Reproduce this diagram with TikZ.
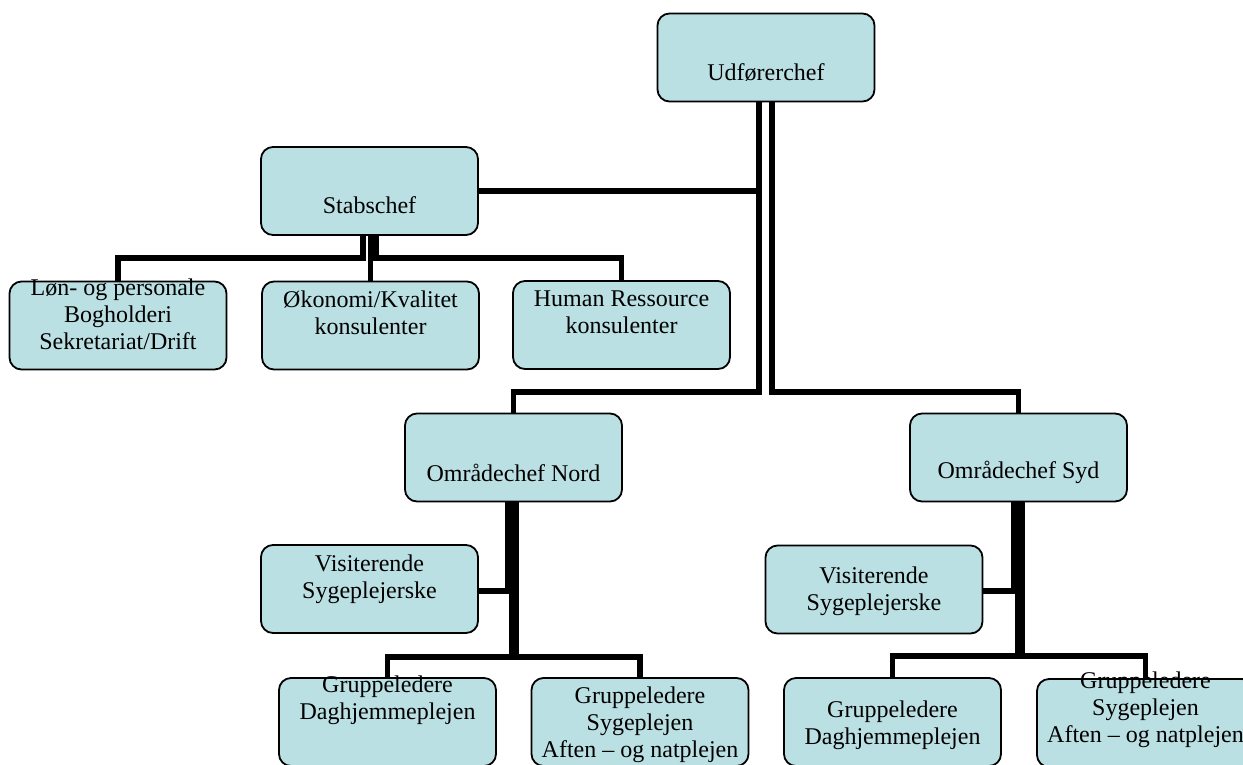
\documentclass[tikz,border=0pt]{standalone}
\usepackage{fontspec}
\setmainfont{Liberation Serif}
\usetikzlibrary{positioning, calc}
\definecolor{boxfill}{RGB}{187,224,227}

\begin{document}
\begin{tikzpicture}[x=1pt, y=-1pt,
		box/.style={draw=black, line width=1.8pt, fill=boxfill, rounded corners=12pt, minimum width=217pt, minimum height=88pt, inner sep=0pt},
		txt/.style={align=center, inner sep=0pt, font=\fontsize{24}{27}\selectfont},
		link/.style={line width=5.5pt}]
		\useasboundingbox (0,0) rectangle (1243,764);

		% boxes
		\node[box] (udf) at (766,57.5) {};
		\node[box] (stab) at (369.5,191) {};
		\node[box] (lon) at (118,325.5) {};
		\node[box] (oko) at (370.5,325.5) {};
		\node[box] (hum) at (621.5,325) {};
		\node[box] (nord) at (513.5,457.5) {};
		\node[box] (syd) at (1018.5,457.5) {};
		\node[box] (nordvis) at (369.5,589) {};
		\node[box] (sydvis) at (874,589.5) {};
		\node[box] (norddag) at (387.5,722) {};
		\node[box] (nordaft) at (640,722) {};
		\node[box] (syddag) at (892.5,722) {};
		\node[box] (sydaft) at (1145.5,723) {};

		% texts
		\node[txt] (udf-txt) at ($(udf)+(0,15)$) {Udførerchef};
		\node[txt] (stab-txt) at ($(stab)+(0,14)$) {Stabschef};
		\node[txt] (lon-txt) at ($(lon)+(0,-11)$) {Løn- og personale\\Bogholderi\\Sekretariat/Drift};
		\node[txt] (oko-txt) at ($(oko)+(0,-13)$) {Økonomi/Kvalitet\\konsulenter};
		\node[txt] (hum-txt) at ($(hum)+(0,-13)$) {Human Ressource\\konsulenter};
		\node[txt] (nord-txt) at ($(nord)+(0,15)$) {Områdechef Nord};
		\node[txt] (syd-txt) at ($(syd)+(0,15)$) {Områdechef Syd};
		\node[txt] (nordvis-txt) at ($(nordvis)+(0,-10)$) {Visiterende\\Sygeplejerske};
		\node[txt] (sydvis-txt) at ($(sydvis)+(0,2)$) {Visiterende\\Sygeplejerske};
		\node[txt] (norddag-txt) at ($(norddag)+(0,-22)$) {Gruppeledere\\Daghjemmeplejen};
		\node[txt] (nordaft-txt) at ($(nordaft)+(0,3)$) {Gruppeledere\\Sygeplejen\\Aften -- og natplejen};
		\node[txt] (syddag-txt) at ($(syddag)+(0,3)$) {Gruppeledere\\Daghjemmeplejen};
		\node[txt] (sydaft-txt) at ($(sydaft)+(0,-13)$) {Gruppeledere\\Sygeplejen\\Aften -- og natplejen};

		% connectors
		\coordinate (nbus) at (759,392);
		\coordinate (sbus) at (772,392);
		\draw[link] (udf.south -| nbus) -- (nbus) -| (nord.north);
		\draw[link] (udf.south -| sbus) -- (sbus) -| (syd.north);
		\draw[link] (stab.east) -- (stab.east -| nbus);

		\coordinate (stl) at (363,258);
		\coordinate (str) at (376,258);
		\draw[link] (stab.south -| stl) -- (stl) -| (lon.north);
		\draw[link] (stab.south -| oko.north) -- (oko.north);
		\draw[link] (stab.south -| str) -- (str) -| (hum.north);

		\coordinate (nv) at (508,591);
		\coordinate (nl) at (512,657);
		\coordinate (nr) at (516,657);
		\draw[link] (nord.south -| nv) -- (nv) -- (nv -| nordvis.east);
		\draw[link] (nord.south -| nl) -- (nl) -| (norddag.north);
		\draw[link] (nord.south -| nr) -- (nr) -| (nordaft.north);

		\coordinate (sv) at (1014,591);
		\coordinate (sl) at (1018,656);
		\coordinate (sr) at (1022,656);
		\draw[link] (syd.south -| sv) -- (sv) -- (sv -| sydvis.east);
		\draw[link] (syd.south -| sl) -- (sl) -| (syddag.north);
		\draw[link] (syd.south -| sr) -- (sr) -| (sydaft.north);
	\end{tikzpicture}
\end{document}
